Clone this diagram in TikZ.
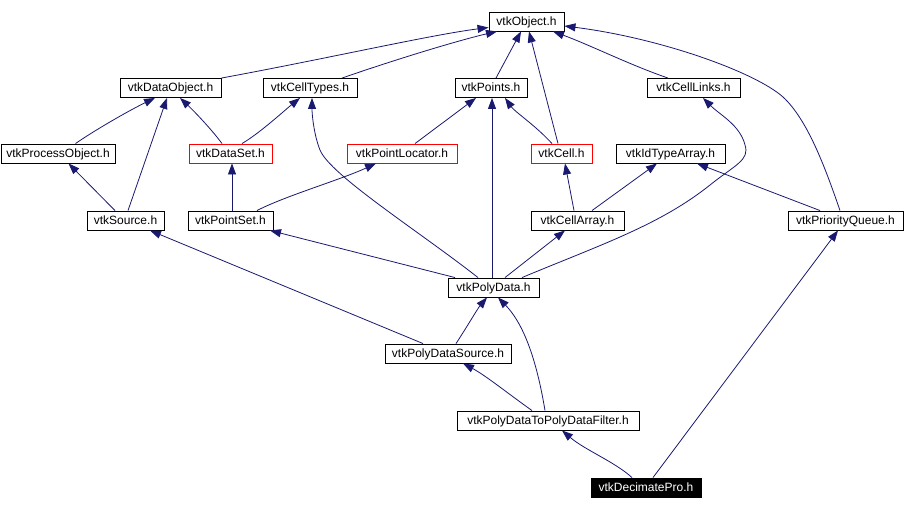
\documentclass[tikz,border=0pt]{standalone}
\usepackage{fontspec}
\setmainfont{Liberation Sans}
\usetikzlibrary{arrows.meta}
\definecolor{edgeblue}{RGB}{25,25,112}
\tikzset{
  box/.style={draw=black, line width=0.9pt, fill=white, inner sep=0pt, minimum height=19pt, text height=9pt, text depth=2pt, font=\fontsize{12}{14}\selectfont, anchor=center},
  redbox/.style={box, draw=red},
  curbox/.style={box, fill=black, text=white},
  dep/.style={draw=edgeblue, line width=0.8pt, -{Triangle[length=11pt,width=8pt]}}
}
\begin{document}
\begin{tikzpicture}[x=1pt,y=-1pt]
\useasboundingbox (0,0) rectangle (905,509);
\node[box, minimum width=75pt] (obj) at (526.5,21.5) {vtkObject.h};
\node[box, minimum width=101pt] (dobj) at (170.5,88) {vtkDataObject.h};
\node[box, minimum width=94pt] (ctypes) at (310,88) {vtkCellTypes.h};
\node[box, minimum width=72pt] (points) at (491,88) {vtkPoints.h};
\node[box, minimum width=93pt] (clinks) at (693.5,88) {vtkCellLinks.h};
\node[box, minimum width=114pt] (pobj) at (58,153.5) {vtkProcessObject.h};
\node[redbox, minimum width=83pt] (dset) at (230.5,153.5) {vtkDataSet.h};
\node[redbox, minimum width=110pt] (ploc) at (402,153.5) {vtkPointLocator.h};
\node[redbox, minimum width=61pt] (cell) at (561.5,153.5) {vtkCell.h};
\node[box, minimum width=109pt] (idta) at (670.5,153.5) {vtkIdTypeArray.h};
\node[box, minimum width=77pt] (src) at (125.5,220.5) {vtkSource.h};
\node[box, minimum width=85pt] (pset) at (230.5,220.5) {vtkPointSet.h};
\node[box, minimum width=93pt] (carr) at (577.5,220.5) {vtkCellArray.h};
\node[box, minimum width=115pt] (pq) at (845.5,220.5) {vtkPriorityQueue.h};
\node[box, minimum width=91pt] (pdata) at (493.5,287.5) {vtkPolyData.h};
\node[box, minimum width=126pt] (pdsrc) at (448,353.5) {vtkPolyDataSource.h};
\node[box, minimum width=182pt] (filt) at (548,420.5) {vtkPolyDataToPolyDataFilter.h};
\node[curbox, minimum width=110pt] (dec) at (646,487.5) {vtkDecimatePro.h};

% edges to vtkObject
\draw[dep] (dobj.north east) .. controls (330,58) and (430,35) .. ([yshift=-6pt]obj.west);
\draw[dep] ([xshift=32pt]ctypes.north) .. controls (400,58) and (460,40) .. ([xshift=-29.5pt]obj.south);
\draw[dep] ([xshift=5pt]points.north) -- ([xshift=-5.5pt]obj.south);
\draw[dep] ([xshift=-3.5pt]cell.north) -- ([xshift=2.5pt]obj.south);
\draw[dep] ([xshift=-25.5pt]clinks.north) .. controls (630,65) and (590,45) .. ([xshift=26.5pt]obj.south);
\draw[dep] ([xshift=-5.5pt]pq.north) .. controls (826,170) and (808,120) .. (783,97) .. controls (755,72) and (660,38) .. ([yshift=-4.5pt]obj.east);
% edges to vtkDataObject
\draw[dep] ([xshift=17.5pt]pobj.north) .. controls (95,130) and (130,110) .. ([xshift=-15.5pt]dobj.south);
\draw[dep] ([xshift=2.5pt]src.north) -- ([xshift=-3.5pt]dobj.south);
\draw[dep] ([xshift=-8.5pt]dset.north) .. controls (212,130) and (195,112) .. ([xshift=9.5pt]dobj.south);
% edges to vtkCellTypes
\draw[dep] ([xshift=11.5pt]dset.north) .. controls (260,133) and (285,110) .. ([xshift=-10pt]ctypes.south);
\draw[dep] ([xshift=-15.5pt]pdata.north) .. controls (420,232) and (330,175) .. (320,150) .. controls (314,135) and (312,115) .. ([xshift=2pt]ctypes.south);
% edges to vtkPoints
\draw[dep] ([xshift=13pt]ploc.north) -- ([xshift=-15pt]points.south);
\draw[dep] ([xshift=-1.5pt]pdata.north) -- ([xshift=1pt]points.south);
\draw[dep] ([xshift=-9.5pt]cell.north) .. controls (535,125) and (515,112) .. ([xshift=14pt]points.south);
% edges to vtkCell, vtkIdTypeArray
\draw[dep] ([xshift=-3.5pt]carr.north) -- ([xshift=3.5pt]cell.south);
\draw[dep] ([xshift=14.5pt]carr.north) -- ([xshift=-13.5pt]idta.south);
\draw[dep] ([xshift=-25.5pt]pq.north) -- ([xshift=26.5pt]idta.south);
% vtkPolyData to vtkCellLinks
\draw[dep] ([xshift=28.5pt]pdata.north) .. controls (600,245) and (660,225) .. (710,185) .. controls (735,165) and (750,160) .. (745,145) .. controls (740,125) and (720,115) .. ([xshift=9.5pt]clinks.south);
% second level
\draw[dep] ([xshift=-10.5pt]src.north) -- ([xshift=10.5pt]pobj.south);
\draw[dep] ([xshift=1.5pt]pset.north) -- ([xshift=1.5pt]dset.south);
\draw[dep] ([xshift=26.5pt]pset.north) .. controls (285,196) and (340,180) .. ([xshift=-26pt]ploc.south);
\draw[dep] ([xshift=-38.5pt]pdata.north) -- ([xshift=39.5pt]pset.south);
\draw[dep] ([xshift=11.5pt]pdata.north) -- ([xshift=-12.5pt]carr.south);
% lower levels
\draw[dep] ([xshift=-25pt]pdsrc.north) -- ([xshift=24.5pt]src.south);
\draw[dep] ([xshift=8pt]pdsrc.north) .. controls (465,330) and (478,308) .. ([xshift=-6.5pt]pdata.south);
\draw[dep] ([xshift=-3pt]filt.north) .. controls (535,350) and (520,320) .. ([xshift=4.5pt]pdata.south);
\draw[dep] ([xshift=-16pt]filt.north) .. controls (510,395) and (485,375) .. ([xshift=15pt]pdsrc.south);
\draw[dep] ([xshift=-14pt]dec.north) .. controls (615,462) and (585,450) .. ([xshift=14pt]filt.south);
\draw[dep] ([xshift=7pt]dec.north) -- ([xshift=-7.5pt]pq.south);
\end{tikzpicture}
\end{document}
